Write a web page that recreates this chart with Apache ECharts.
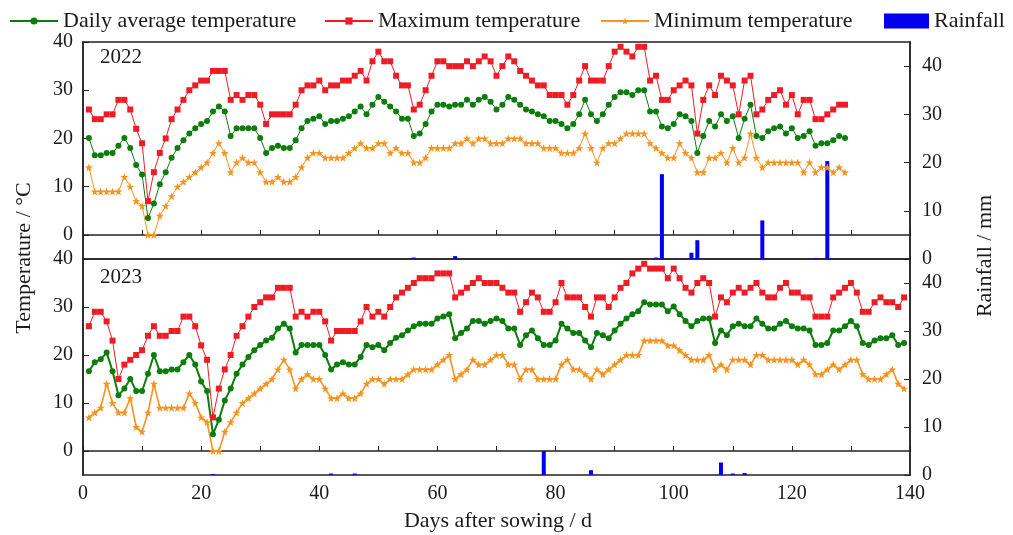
<!DOCTYPE html>
<html>
<head>
<meta charset="utf-8">
<script src="https://cdn.jsdelivr.net/npm/echarts@6/dist/echarts.min.js"></script>
<style>
html,body{margin:0;padding:0;background:#fff;}
#chart{width:1013px;height:535px;}
</style>
</head>
<body>
<div id="chart"></div>
<script>
// ---------- DATA ----------
const seriesNames = ['Daily average temperature', 'Maximum temperature', 'Minimum temperature', 'Rainfall'];
const yearLabels = ['2022', '2023'];
const xTickLabels = [0, 20, 40, 60, 80, 100, 120, 140];
const tempTicks = [0, 10, 20, 30, 40];
const rainTicks = [0, 10, 20, 30, 40];

// 2022, day 1 .. 129
const avg2022 = [20.1,16.5,16.5,17,17,18.5,20.1,18,14.5,12.5,
  3.5,6.5,10.5,13,16,18,19.6,21,22.1,23,
  23.6,25.6,26.6,25.6,20.5,22.1,22.1,22.1,22.1,20.1,
  17,18,18.5,18,18,19.6,22.1,23.6,24.1,24.6,
  23,23.6,23.6,24.1,24.6,25.6,26.6,25,27,28.6,
  27.6,26.6,25.6,24.1,24.1,20.5,21,23,25.6,27,
  27,26.6,27,27,28,27,28,28.6,27.6,26,
  27,28.6,28,27,26,25.6,25,24.6,23.6,23.6,
  23,22.1,23,25,28,25,23.6,25,27,28.6,
  29.6,29.6,29,30,30,25.6,25.6,22.5,22.1,23,
  25,24.6,23.6,17,20.5,23.6,22.5,25,23.6,24.6,
  20.1,24.1,27,20.5,20.1,21.5,22.1,22.5,21,22.1,
  20.1,20.5,21.5,18.5,19,19,19.6,20.5,20.1];
const max2022 = [26,24,24,25,25,28,28,26,22,19,
  7,13,17,20,24,26,28,30,31,32,
  32,34,34,34,28,29,28,29,29,27,
  23,25,25,25,25,27,30,31,31,32,
  30,31,31,32,32,33,34,32,36,38,
  36,36,33,31,31,26,27,30,33,36,
  36,35,35,35,36,35,36,37,36,33,
  35,37,36,34,33,32,31,31,29,29,
  29,27,29,32,35,32,32,32,35,38,
  39,38,37,39,39,32,33,28,28,30,
  31,32,31,21,28,31,29,33,32,31,
  25,32,33,25,26,28,29,30,27,29,
  25,28,28,24,24,25,26,27,27];
const min2022 = [14,9,9,9,9,9,12,10,7,6,
  0,0,4,6,8,10,11,12,13,14,
  15,17,19,17,13,15,16,15,15,13,
  11,11,12,11,11,12,14,16,17,17,
  16,16,16,16,17,18,19,18,18,19,
  19,17,18,17,17,15,15,16,18,18,
  18,18,19,19,20,19,20,20,19,19,
  19,20,20,20,19,19,19,18,18,18,
  17,17,17,18,21,18,15,18,19,19,
  20,21,21,21,21,19,18,17,16,16,
  19,17,16,13,13,16,16,17,15,18,
  15,16,21,16,14,15,15,15,15,15,
  15,13,15,13,14,14,13,14,13];
const rainDays2022 = [56, 63, 97, 98, 103, 104, 115, 124, 126];
const rain2022 =     [0.3, 0.6, 0.3, 17.6, 1.3, 3.9, 8.0, 0.2, 20.3];

// 2023, day 1 .. 139
const avg2023 = [16.6,18.5,19.1,20.5,16.6,11.6,13,15,12.5,12.5,
  16.1,20,16.6,16.6,17,17,18.5,20,18,14.5,
  12.5,3.5,6.5,10.5,13,16.1,18,19.6,21,22.1,
  23,23.6,25.5,26.5,25.5,20.5,22.1,22.1,22.1,22.1,
  20,17,18,18.5,18,18,19.6,22.1,21.6,22.1,
  21,22.5,23.6,24.1,25.1,26,26.5,26.5,26.5,27.6,
  28,28.5,23.5,24.6,25.5,27.1,27.1,26.5,27.1,27.6,
  27.1,25.5,25.5,22.1,24.1,25.1,23.5,22.1,22.1,23,
  26.5,25.5,24.6,24.6,23,21.6,24.6,24.1,23.5,25.1,
  26.5,27.6,28.5,29.1,31,30.5,30.5,30.5,29.1,30.1,
  28.5,27.1,26,27.1,27.6,27.6,22.5,25.1,24.1,26,
  26.5,26,26,27.6,26.5,25.5,25.5,26.5,27.1,26,
  25.5,25.5,25.1,22.1,22.1,22.5,25.1,25.1,26,27.1,
  26,22.5,22.1,23,23.5,23.5,24.1,22.1,22.5];
const max2023 = [26,29,29,27,23,15,18,19,20,21,
  24,26,24,24,25,25,28,28,26,22,
  19,7,13,17,20,24,26,28,30,31,
  32,32,34,34,34,28,29,28,29,29,
  27,23,25,25,25,25,27,30,28,29,
  28,30,32,33,34,35,36,36,36,37,
  37,37,32,33,34,35,36,35,35,35,
  34,33,33,29,31,33,32,29,29,31,
  35,32,32,32,30,28,32,32,30,32,
  34,35,37,38,39,38,38,38,36,38,
  36,34,33,35,36,35,28,32,31,33,
  34,33,34,35,33,32,32,34,35,33,
  33,32,32,28,28,28,32,33,34,35,
  33,29,29,31,32,31,31,30,32];
const min2023 = [7,8,9,14,10,8,8,11,5,4,
  8,14,9,9,9,9,9,12,10,7,
  6,0,0,4,6,8,10,11,12,13,
  14,15,17,19,17,13,15,16,15,15,
  13,11,11,12,11,11,12,14,15,15,
  14,15,15,15,16,17,17,17,17,18,
  19,20,15,16,17,19,18,18,19,20,
  20,18,18,15,17,17,15,15,15,15,
  18,19,17,17,16,15,17,16,17,18,
  19,20,20,20,23,23,23,23,22,22,
  21,20,19,19,19,20,17,18,17,19,
  19,19,18,20,20,19,19,19,19,19,
  18,19,18,16,16,17,18,17,18,19,
  19,16,15,15,15,16,17,14,13];
const rainDays2023 = [22, 42, 46, 78, 86, 108, 110, 112];
const rain2023 =     [0.2, 0.3, 0.3, 5.0, 1.0, 2.6, 0.3, 0.4];

// ---------- CHART ----------
const FONT = 'Liberation Serif, Times New Roman, serif';
const TXT = '#1a1a1a';
const C_AVG = '#0b7d0b', C_MAX = '#ee1c24', C_MIN = '#f7931e', C_RAIN = '#0000f0';
const STAR = 'path://M0,-10L2.35,-3.24L9.51,-3.09L3.8,1.24L5.88,8.09L0,4L-5.88,8.09L-3.8,1.24L-9.51,-3.09L-2.35,-3.24Z';

const byDay = arr => arr.map((v, i) => [i + 1, v]);
const pairs = (days, vals) => days.map((d, i) => [d, vals[i]]);

const axisLine = {show: true, lineStyle: {color: '#222', width: 1.5}};
function xAx(grid, labels) {
  return {
    type: 'value', gridIndex: grid, min: 0, max: 140, interval: 10,
    axisLine: axisLine,
    axisTick: {show: true, inside: true, length: 5, lineStyle: {color: '#222'}},
    axisLabel: {show: labels, margin: 9, fontFamily: FONT, fontSize: 20, color: TXT,
      formatter: v => xTickLabels.indexOf(v) >= 0 ? String(v) : ''},
    splitLine: {show: false}
  };
}
function yTemp(grid) {
  return {
    type: 'value', gridIndex: grid, min: -5, max: 40, position: 'left',
    axisLine: axisLine,
    axisTick: {show: true, inside: true, length: 6, customValues: tempTicks, lineStyle: {color: '#222'}},
    axisLabel: {customValues: tempTicks, margin: 10, fontFamily: FONT, fontSize: 20, color: TXT},
    splitLine: {show: false}
  };
}
function yRain(grid) {
  return {
    type: 'value', gridIndex: grid, min: 0, max: 45, position: 'right',
    axisLine: axisLine,
    axisTick: {show: true, inside: true, length: 6, customValues: rainTicks, lineStyle: {color: '#222'}},
    axisLabel: {customValues: rainTicks, margin: 12, fontFamily: FONT, fontSize: 20, color: TXT},
    splitLine: {show: false}
  };
}
function lineS(name, data, xi, yi, color, symbol, size, width) {
  return {
    name: name, type: 'line', xAxisIndex: xi, yAxisIndex: yi, data: data,
    symbol: symbol, symbolSize: size, showAllSymbol: true,
    lineStyle: {color: color, width: width},
    itemStyle: {color: color},
    z: 3
  };
}
function barS(data, xi, yi) {
  return {
    name: seriesNames[3], type: 'bar', xAxisIndex: xi, yAxisIndex: yi, data: data,
    barWidth: 4, itemStyle: {color: C_RAIN}, z: 2
  };
}
const legendBase = {top: 5, itemWidth: 48, itemHeight: 9, itemGap: 0,
  textStyle: {fontFamily: FONT, fontSize: 22, color: TXT}};

const option = {
  animation: false,
  backgroundColor: '#fff',
  grid: [
    {left: 83, right: 103, top: 42, height: 217, show: true, borderColor: '#222', borderWidth: 1.5},
    {left: 83, right: 103, top: 259, height: 216, show: true, borderColor: '#222', borderWidth: 1.5}
  ],
  legend: [
    Object.assign({}, legendBase, {left: 4, data: [seriesNames[0]]}),
    Object.assign({}, legendBase, {left: 319, data: [seriesNames[1]]}),
    Object.assign({}, legendBase, {left: 595, data: [seriesNames[2]]}),
    Object.assign({}, legendBase, {left: 879, itemWidth: 45, itemHeight: 15, icon: 'rect', data: [seriesNames[3]]})
  ],
  xAxis: [xAx(0, false), xAx(1, true)],
  yAxis: [yTemp(0), yRain(0), yTemp(1), yRain(1)],
  series: [
    barS(pairs(rainDays2022, rain2022), 0, 1),
    lineS(seriesNames[0], byDay(avg2022), 0, 0, C_AVG, 'circle', 6, 1),
    lineS(seriesNames[1], byDay(max2022), 0, 0, C_MAX, 'rect', 6, 1),
    lineS(seriesNames[2], byDay(min2022), 0, 0, C_MIN, STAR, 8, 1),
    barS(pairs(rainDays2023, rain2023), 1, 3),
    lineS(seriesNames[0], byDay(avg2023), 1, 2, C_AVG, 'circle', 6, 2),
    lineS(seriesNames[1], byDay(max2023), 1, 2, C_MAX, 'rect', 6, 1),
    lineS(seriesNames[2], byDay(min2023), 1, 2, C_MIN, STAR, 8, 1.6)
  ],
  graphic: [
    {type: 'text', x: 100, y: 47, style: {text: yearLabels[0], font: '21px ' + FONT, fill: TXT}},
    {type: 'text', x: 100, y: 267, style: {text: yearLabels[1], font: '21px ' + FONT, fill: TXT}},
    {type: 'text', x: 24, y: 258, rotation: Math.PI / 2,
      style: {text: 'Temperature / °C', font: '22px ' + FONT, fill: TXT, align: 'center', verticalAlign: 'middle'}},
    {type: 'text', x: 985, y: 256, rotation: Math.PI / 2,
      style: {text: 'Rainfall / mm', font: '22px ' + FONT, fill: TXT, align: 'center', verticalAlign: 'middle'}},
    {type: 'text', x: 498, y: 521,
      style: {text: 'Days after sowing / d', font: '22px ' + FONT, fill: TXT, align: 'center', verticalAlign: 'middle'}}
  ]
};

const chart = echarts.init(document.getElementById('chart'), null, {renderer: 'canvas'});
chart.setOption(option);
</script>
</body>
</html>
